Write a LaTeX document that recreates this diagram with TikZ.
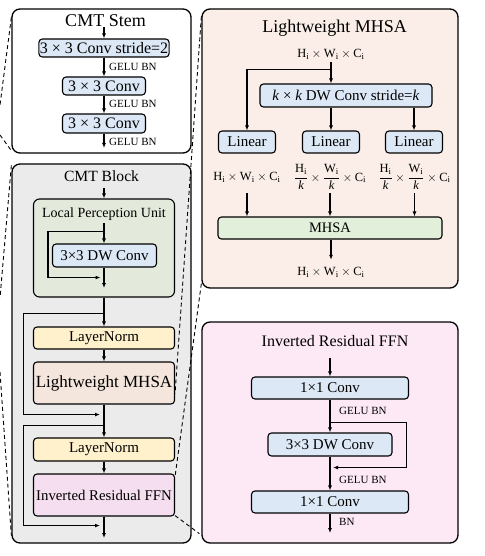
\documentclass[tikz,border=0pt]{standalone}
\usepackage{amsmath}
\usepackage{fontspec}
\setmainfont{Liberation Serif}
\usepackage{tikz}
\usetikzlibrary{arrows.meta,calc}

\definecolor{convblue}{HTML}{DCE8F5}
\definecolor{blockgray}{HTML}{EBEBEB}
\definecolor{lpugreen}{HTML}{E3EADB}
\definecolor{lnyellow}{HTML}{FFF1CC}
\definecolor{mhsabeige}{HTML}{F4E6DD}
\definecolor{ffnpink}{HTML}{F4DEEF}
\definecolor{mhsapanel}{HTML}{FBEEE8}
\definecolor{ffnpanel}{HTML}{FDE9F6}
\definecolor{mhsagreen}{HTML}{E2EFDA}

\begin{document}
\begin{tikzpicture}[x=1pt,y=1pt,yscale=-1,xscale=1,
    panel/.style={draw,line width=1.3pt,rounded corners=8pt,inner sep=0pt},
    box/.style={draw,line width=1.1pt,rounded corners=3.5pt,inner sep=1pt,font=\fontsize{15}{17}\selectfont},
    ttl/.style={inner sep=0pt,anchor=base},
    arr/.style={line width=1.1pt,-{Latex[length=5pt,width=4pt]}},
    zoomline/.style={line width=0.9pt,dash pattern=on 4pt off 3pt},
    lbl/.style={inner sep=0pt,anchor=west,font=\fontsize{11}{13}\selectfont},
    dims/.style={inner sep=0pt,font=\fontsize{12.5}{14}\selectfont}]
    \useasboundingbox (0,0) rectangle (484,556);

    %Shape: Rounded Rect [CMT Stem]
    \node[panel,fill=white,minimum width=179,minimum height=144] (stem) at (101.5,81) {};
    % Text Node
    \node[ttl,font=\fontsize{18}{20}\selectfont] (stemtitle) at (105.5,27) {CMT Stem};
    \node[box,fill=convblue,font=\fontsize{16}{18}\selectfont,minimum width=130,minimum height=18] (s1) at (104,48) {3 × 3 Conv stride=2};
    \node[box,fill=convblue,font=\fontsize{16}{18}\selectfont,minimum width=83,minimum height=18] (s2) at (104,86) {3 × 3 Conv};
    \node[box,fill=convblue,font=\fontsize{16}{18}\selectfont,minimum width=83,minimum height=19] (s3) at (104,123.5) {3 × 3 Conv};
    \coordinate (stemout) at (104,148);
    \node[lbl] (sg1) at (109,67) {GELU BN};
    \node[lbl] (sg2) at (109,104) {GELU BN};
    \node[lbl] (sg3) at (109,142) {GELU BN};
    %Straight Lines
    \draw[arr] (stemtitle.south -| s1.north) -- (s1.north);
    \draw[arr] (s1) -- (s2);
    \draw[arr] (s2) -- (s3);
    \draw[arr] (s3) -- (stemout);

    %Shape: Rounded Rect [CMT Block]
    \node[panel,fill=blockgray,minimum width=179,minimum height=379] (blk) at (101.5,353.5) {};
    % Text Node
    \node[ttl,font=\fontsize{15.6}{18}\selectfont] (blktitle) at (101.5,181) {CMT Block};
    \coordinate (blkin) at (104,188);
    \node[draw,line width=1.1pt,rounded corners=6pt,fill=lpugreen,minimum width=141,minimum height=98] (lpu) at (104,248) {};
    \node[ttl,font=\fontsize{14}{16}\selectfont] (lputitle) at (104,217) {Local Perception Unit};
    \coordinate (lpuin) at (104,223);
    \node[box,fill=convblue,minimum width=104,minimum height=23] (dw) at (104.5,255.5) {3×3 DW Conv};
    \coordinate (lpuout) at (104,288);
    \node[box,fill=lnyellow,minimum width=141,minimum height=22] (ln1) at (104,338) {LayerNorm};
    \node[box,fill=mhsabeige,font=\fontsize{17}{19}\selectfont,minimum width=141,minimum height=42] (lmhsa) at (104,383) {Lightweight MHSA};
    \node[box,fill=lnyellow,minimum width=141,minimum height=23] (ln2) at (104,449.5) {LayerNorm};
    \node[box,fill=ffnpink,font=\fontsize{14.8}{17}\selectfont,minimum width=141,minimum height=42] (ffn) at (104,495) {Inverted Residual FFN};
    \coordinate (blkout) at (104,538);
    %Straight Lines
    \draw[arr] (blkin) -- (lpu.north);
    \draw[arr] (lpuin) -- (lpuin |- dw.north);
    \draw[arr] (lpuin |- dw.south) -- (lpuout);
    \draw[arr] ($(dw.north)+(0,-12)$) -| ($(dw.west)+(-4,0)$) |- ($(dw.south)+(-4,10)$);
    \draw[arr] (lpu) -- (ln1);
    \draw[arr] (ln1) -- (lmhsa);
    \draw[arr] (lmhsa) -- (ln2);
    \draw[arr] (ln2) -- (ffn);
    \draw[arr] (ffn) -- (blkout);
    \draw[arr] ($(ln1.north)+(0,-13)$) -| ($(ln1.west)+(-9.5,0)$) |- ($(lmhsa.south)+(-4,10)$);
    \draw[arr] ($(ln2.north)+(0,-12)$) -| ($(ln2.west)+(-9.5,0)$) |- ($(ffn.south)+(-4,9)$);

    %Shape: Rounded Rect [Lightweight MHSA]
    \node[panel,fill=mhsapanel,minimum width=256,minimum height=279] (mp) at (330,148.5) {};
    % Text Node
    \node[ttl,font=\fontsize{18}{20}\selectfont] (mptitle) at (334.5,33) {Lightweight MHSA};
    \node[dims,minimum height=16] (xin) at (331,54) {$\text{H}_\text{i}\times\text{W}_\text{i}\times\text{C}_\text{i}$};
    \node[box,fill=convblue,minimum width=172,minimum height=23] (kdw) at (346,95.5) {\textit{k} × \textit{k} DW Conv stride=\textit{k}};
    \node[box,fill=convblue,minimum width=57,minimum height=22] (lin1) at (247,142) {Linear};
    \node[box,fill=convblue,minimum width=57,minimum height=22] (lin2) at (331,142) {Linear};
    \node[box,fill=convblue,minimum width=57,minimum height=22] (lin3) at (414,142) {Linear};
    \node[dims,minimum height=32] (d1) at (247,177) {$\text{H}_\text{i}\times\text{W}_\text{i}\times\text{C}_\text{i}$};
    \node[dims,minimum height=32] (d2) at (330,177) {$\dfrac{\text{H}_\text{i}}{\textit{k}}\times\dfrac{\text{W}_\text{i}}{\textit{k}}\times\text{C}_\text{i}$};
    \node[dims,minimum height=32] (d3) at (414.5,177) {$\dfrac{\text{H}_\text{i}}{\textit{k}}\times\dfrac{\text{W}_\text{i}}{\textit{k}}\times\text{C}_\text{i}$};
    \node[box,fill=mhsagreen,font=\fontsize{14.5}{17}\selectfont,minimum width=224,minimum height=22] (mh) at (330,228) {MHSA};
    \node[dims,minimum height=24] (xout) at (331,272) {$\text{H}_\text{i}\times\text{W}_\text{i}\times\text{C}_\text{i}$};
    %Straight Lines
    \draw[arr] (xin.south) -- (xin.south |- kdw.north);
    \draw[arr] ($(xin.south)+(0,7)$) -| (lin1.north);
    \draw[arr] (kdw.south -| lin2.north) -- (lin2.north);
    \draw[arr] (kdw.south -| lin3.north) -- (lin3.north);
    \draw[arr] (d1.south) -- (d1.south |- mh.north);
    \draw[arr] (d2.south) -- (d2.south |- mh.north);
    \draw[arr] (d3.south) -- (d3.south |- mh.north);
    \draw[arr] (mh.south -| xout.north) -- (xout.north);

    %Shape: Rounded Rect [Inverted Residual FFN]
    \node[panel,fill=ffnpanel,minimum width=256,minimum height=221] (fp) at (330,432.5) {};
    % Text Node
    \node[ttl,font=\fontsize{16}{18}\selectfont] (fptitle) at (335,346) {Inverted Residual FFN};
    \coordinate (fpin) at (330,358);
    \node[box,fill=convblue,minimum width=157,minimum height=22] (f1) at (330,388) {1×1 Conv};
    \node[box,fill=convblue,minimum width=124,minimum height=23] (f2) at (330,444.5) {3×3 DW Conv};
    \node[box,fill=convblue,minimum width=157,minimum height=22] (f3) at (330,502) {1×1 Conv};
    \coordinate (fpout) at (330,533);
    \node[lbl] (fg1) at (339,411) {GELU BN};
    \node[lbl] (fg2) at (339,480) {GELU BN};
    \node[lbl] (fg3) at (339,522) {BN};
    %Straight Lines
    \draw[arr] (fpin) -- (f1);
    \draw[arr] (f1) -- (f2);
    \draw[arr] (f2) -- (f3);
    \draw[arr] (f3) -- (fpout);
    \draw[arr] ($(f2.north)+(0,-10)$) -| ($(f2.east)+(14,0)$) |- ($(f2.south)+(3,11)$);

    %Dashed zoom lines
    \draw[zoomline] ($(stem.north west)+(0,9)$) -- (0,105);
    \draw[zoomline] (0,135) -- ($(stem.south west)+(0,-3)$);
    \draw[zoomline] ($(blk.north west)+(0,2)$) -- (0,298);
    \draw[zoomline] (0,372) -- ($(blk.south west)+(0,-8)$);
    \draw[zoomline] ($(mp.north west)+(0,8)$) -- ($(lmhsa.south east)+(0,-11)$);
    \draw[zoomline] ($(mp.south west)+(0,-5)$) -- ($(ffn.north east)+(0,3)$);
    \draw[zoomline] ($(ffn.south east)+(0,-1)$) -- ($(fp.south west)+(-2,-10)$);
\end{tikzpicture}
\end{document}
